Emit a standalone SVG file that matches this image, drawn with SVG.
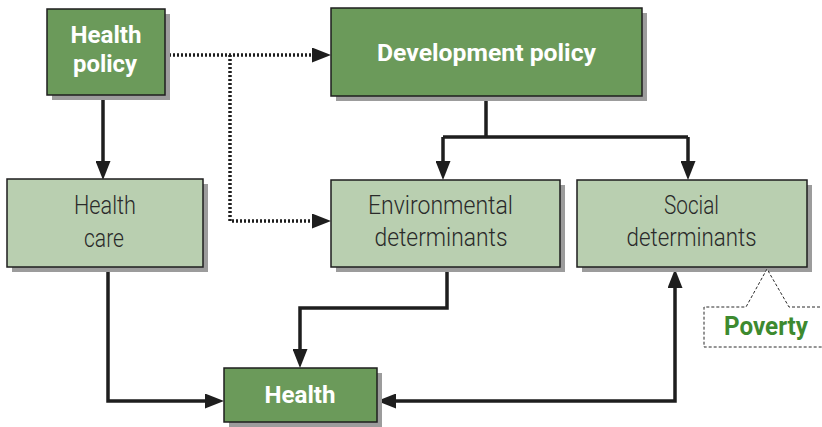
<svg xmlns="http://www.w3.org/2000/svg" width="822" height="427" viewBox="0 0 822 427">
  <defs>
    <style>
      .shadow { fill: #9c9c9c; }
      .dark { fill: #6b9a5a; stroke: #1e1e1e; stroke-width: 1.5; }
      .light { fill: #b9cfb0; stroke: #1e1e1e; stroke-width: 1.5; }
      .tb { font-family: Roboto, "Liberation Sans", sans-serif; font-weight: 700; font-size: 24.5px; fill: #ffffff; text-anchor: middle; }
      .tl { font-family: Roboto, "Liberation Sans", sans-serif; font-weight: 300; font-size: 26px; fill: #2a2a2a; text-anchor: middle; }
      .tp { font-family: Roboto, "Liberation Sans", sans-serif; font-weight: 700; font-size: 25px; fill: #3d8a2f; text-anchor: middle; }
      .solid { fill: none; stroke: #1e1e1e; stroke-width: 3.5; }
      .dotted { fill: none; stroke: #1e1e1e; stroke-width: 3.5; stroke-dasharray: 2 2; }
      .callout { fill: #ffffff; stroke: #2a2a2a; stroke-width: 1; stroke-dasharray: 3 2; }
    </style>
    <marker id="arrow" markerUnits="userSpaceOnUse" markerWidth="19" markerHeight="15" refX="4" refY="7.5" orient="auto-start-reverse" viewBox="0 0 19 15">
      <path d="M0,0 L19,7.5 L0,15 z" fill="#1e1e1e"/>
    </marker>
  </defs>

  <rect width="822" height="427" fill="#ffffff"/>

  <!-- connectors -->
  <g id="connectors">
    <path class="solid" d="M103,96 V165" marker-end="url(#arrow)"/>
    <path class="dotted" d="M165,55 H316" marker-end="url(#arrow)"/>
    <path class="dotted" d="M230,55 V221 H316" marker-end="url(#arrow)"/>
    <path class="solid" d="M486,96 V137 M443,137 H688"/>
    <path class="solid" d="M443,137 V165" marker-end="url(#arrow)"/>
    <path class="solid" d="M688,137 V165" marker-end="url(#arrow)"/>
    <path class="solid" d="M108,268 V401 H209" marker-end="url(#arrow)"/>
    <path class="solid" d="M447,267 V308 H300 V353" marker-end="url(#arrow)"/>
    <path class="solid" d="M392,401 H675 V284" marker-start="url(#arrow)" marker-end="url(#arrow)"/>
  </g>

  <!-- nodes -->
  <g id="health-policy">
    <rect class="shadow" x="52" y="14" width="118" height="86"/>
    <rect class="dark" x="47" y="9" width="118" height="86"/>
    <text class="tb" x="106" y="43" textLength="71" lengthAdjust="spacingAndGlyphs">Health</text>
    <text class="tb" x="105" y="72" textLength="64" lengthAdjust="spacingAndGlyphs">policy</text>
  </g>

  <g id="development-policy">
    <rect class="shadow" x="336" y="13" width="311" height="88"/>
    <rect class="dark" x="331" y="8" width="311" height="88"/>
    <text class="tb" x="486.5" y="61" textLength="219" lengthAdjust="spacingAndGlyphs">Development policy</text>
  </g>

  <g id="health-care">
    <rect class="shadow" x="12" y="184" width="196" height="88"/>
    <rect class="light" x="7" y="179" width="196" height="88"/>
    <text class="tl" x="105" y="214" textLength="62" lengthAdjust="spacingAndGlyphs">Health</text>
    <text class="tl" x="104" y="247" textLength="40" lengthAdjust="spacingAndGlyphs">care</text>
  </g>

  <g id="environmental-determinants">
    <rect class="shadow" x="336" y="185" width="229" height="87"/>
    <rect class="light" x="331" y="180" width="229" height="87"/>
    <text class="tl" x="440.5" y="214" textLength="145" lengthAdjust="spacingAndGlyphs">Environmental</text>
    <text class="tl" x="441" y="246" textLength="133" lengthAdjust="spacingAndGlyphs">determinants</text>
  </g>

  <g id="social-determinants">
    <rect class="shadow" x="582" y="185" width="230" height="87"/>
    <rect class="light" x="577" y="180" width="230" height="87"/>
    <text class="tl" x="691.5" y="214" textLength="55" lengthAdjust="spacingAndGlyphs">Social</text>
    <text class="tl" x="691.5" y="246" textLength="130" lengthAdjust="spacingAndGlyphs">determinants</text>
  </g>

  <g id="health">
    <rect class="shadow" x="229" y="373" width="153" height="54"/>
    <rect class="dark" x="224" y="368" width="153" height="54"/>
    <text class="tb" x="300" y="403" textLength="71" lengthAdjust="spacingAndGlyphs">Health</text>
  </g>

  <g id="poverty">
    <path class="callout" d="M830,307 H789 L767,269 L746,307 H704 V347 H830"/>
    <text class="tp" x="766" y="335" textLength="84" lengthAdjust="spacingAndGlyphs">Poverty</text>
  </g>
</svg>
